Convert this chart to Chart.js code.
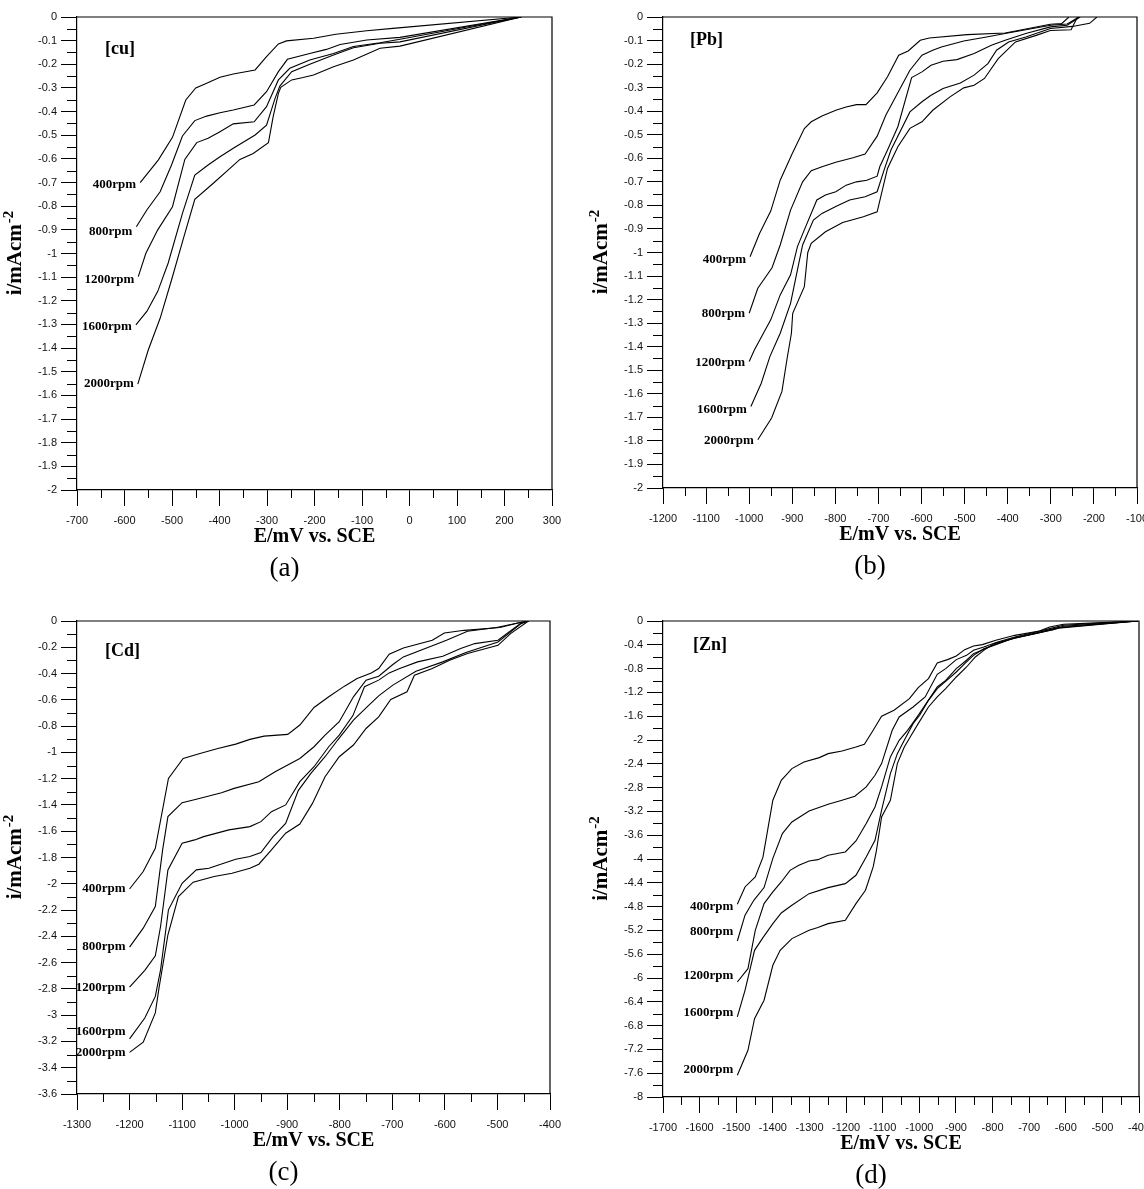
<!DOCTYPE html>
<html>
<head>
<meta charset="utf-8">
<script src="https://cdn.jsdelivr.net/npm/chart.js@4.4.1/dist/chart.umd.min.js"></script>
<style>
  html, body { margin: 0; padding: 0; background: #fff; }
  #wrap { position: relative; width: 1144px; height: 1189px; overflow: hidden; }
  .panel { position: absolute; }
</style>
</head>
<body>
<div id="wrap">
  <div class="panel" style="left:0;top:0"><canvas id="cu" width="572" height="594"></canvas></div>
  <div class="panel" style="left:572px;top:0"><canvas id="pb" width="572" height="594"></canvas></div>
  <div class="panel" style="left:0;top:594px"><canvas id="cd" width="572" height="595"></canvas></div>
  <div class="panel" style="left:572px;top:594px"><canvas id="zn" width="572" height="595"></canvas></div>
</div>
<script>
// Dados: [E (mV vs SCE), i (mA/cm2)] para cada velocidade de rotação
const rpmLabels = ['400rpm', '800rpm', '1200rpm', '1600rpm', '2000rpm'];

// (a) cobre
const cu400 = [[-567,-0.70],[-529,-0.605],[-499,-0.509],[-471,-0.351],[-450,-0.30],[-427,-0.28],[-399,-0.255],[-371,-0.241],[-325,-0.224],[-301,-0.168],[-276,-0.114],[-259,-0.101],[-202,-0.09],[-155,-0.073],[-90,-0.058],[-35,-0.048],[235,0]];
const cu800 = [[-575,-0.887],[-553,-0.816],[-525,-0.739],[-501,-0.626],[-478,-0.503],[-452,-0.438],[-427,-0.419],[-399,-0.405],[-371,-0.393],[-327,-0.372],[-301,-0.316],[-276,-0.231],[-257,-0.179],[-210,-0.154],[-175,-0.137],[-146,-0.116],[-90,-0.097],[-20,-0.086],[235,0]];
const cu1200 = [[-571,-1.098],[-555,-0.999],[-530,-0.9],[-499,-0.802],[-473,-0.602],[-448,-0.531],[-424,-0.513],[-399,-0.485],[-371,-0.452],[-327,-0.443],[-301,-0.379],[-276,-0.266],[-252,-0.217],[-210,-0.182],[-160,-0.154],[-118,-0.125],[-62,-0.109],[-20,-0.094],[235,0]];
const cu1600 = [[-576,-1.302],[-553,-1.245],[-530,-1.16],[-508,-1.04],[-478,-0.83],[-452,-0.668],[-424,-0.626],[-399,-0.591],[-371,-0.555],[-325,-0.499],[-301,-0.457],[-283,-0.344],[-273,-0.292],[-248,-0.231],[-210,-0.2],[-160,-0.161],[-118,-0.13],[-62,-0.111],[-20,-0.105],[235,0]];
const cu2000 = [[-572,-1.552],[-550,-1.408],[-525,-1.274],[-501,-1.112],[-475,-0.93],[-452,-0.771],[-413,-0.703],[-378,-0.64],[-357,-0.602],[-329,-0.577],[-297,-0.531],[-287,-0.421],[-276,-0.323],[-271,-0.297],[-248,-0.266],[-224,-0.256],[-202,-0.245],[-160,-0.21],[-118,-0.182],[-62,-0.132],[-20,-0.123],[235,0]];

// (b) chumbo
const pb400 = [[-998,-1.018],[-976,-0.919],[-950,-0.824],[-928,-0.693],[-900,-0.58],[-872,-0.474],[-856,-0.445],[-831,-0.42],[-799,-0.396],[-775,-0.382],[-751,-0.372],[-729,-0.372],[-703,-0.322],[-679,-0.254],[-653,-0.162],[-631,-0.144],[-603,-0.099],[-582,-0.089],[-494,-0.075],[-406,-0.068],[-301,-0.031],[-275,-0.028],[-258,0]];
const pb800 = [[-1000,-1.258],[-980,-1.152],[-947,-1.065],[-928,-0.968],[-904,-0.82],[-876,-0.70],[-856,-0.653],[-831,-0.636],[-799,-0.617],[-759,-0.598],[-731,-0.582],[-703,-0.506],[-683,-0.417],[-655,-0.322],[-627,-0.226],[-599,-0.162],[-574,-0.141],[-554,-0.127],[-502,-0.102],[-446,-0.084],[-406,-0.07],[-342,-0.049],[-300,-0.035],[-262,-0.03],[-235,0]];
const pb1200 = [[-1000,-1.463],[-988,-1.414],[-950,-1.286],[-928,-1.18],[-904,-1.095],[-888,-0.975],[-872,-0.904],[-843,-0.777],[-823,-0.756],[-799,-0.742],[-775,-0.714],[-751,-0.70],[-727,-0.693],[-703,-0.676],[-697,-0.636],[-679,-0.565],[-655,-0.466],[-623,-0.257],[-599,-0.233],[-578,-0.205],[-550,-0.188],[-518,-0.181],[-478,-0.155],[-438,-0.12],[-406,-0.099],[-358,-0.07],[-301,-0.042],[-262,-0.035],[-232,0]];
const pb1600 = [[-996,-1.654],[-972,-1.555],[-952,-1.442],[-928,-1.343],[-904,-1.216],[-888,-1.074],[-876,-0.968],[-851,-0.862],[-831,-0.834],[-799,-0.805],[-767,-0.777],[-731,-0.763],[-703,-0.742],[-687,-0.65],[-671,-0.565],[-627,-0.403],[-599,-0.36],[-578,-0.332],[-550,-0.304],[-510,-0.28],[-478,-0.247],[-446,-0.198],[-426,-0.141],[-398,-0.106],[-358,-0.085],[-301,-0.049],[-250,-0.04],[-210,-0.027],[-193,0]];
const pb2000 = [[-980,-1.795],[-948,-1.703],[-924,-1.59],[-912,-1.45],[-902,-1.343],[-899,-1.258],[-872,-1.145],[-864,-1.0],[-856,-0.961],[-823,-0.912],[-783,-0.873],[-735,-0.848],[-703,-0.827],[-679,-0.643],[-655,-0.551],[-627,-0.473],[-599,-0.445],[-574,-0.396],[-534,-0.339],[-502,-0.301],[-478,-0.29],[-454,-0.261],[-422,-0.177],[-382,-0.106],[-334,-0.078],[-301,-0.057],[-253,-0.054],[-238,0]];

// (c) cádmio
const cd400 = [[-1200,-2.04],[-1174,-1.907],[-1151,-1.73],[-1126,-1.198],[-1098,-1.046],[-1066,-1.008],[-1032,-0.97],[-998,-0.937],[-971,-0.901],[-944,-0.876],[-899,-0.863],[-876,-0.792],[-849,-0.658],[-821,-0.577],[-791,-0.496],[-767,-0.438],[-740,-0.395],[-726,-0.362],[-706,-0.253],[-679,-0.205],[-624,-0.147],[-601,-0.091],[-563,-0.071],[-495,-0.05],[-461,-0.015],[-441,0]];
const cd800 = [[-1200,-2.482],[-1174,-2.338],[-1151,-2.173],[-1137,-1.74],[-1127,-1.489],[-1100,-1.383],[-1073,-1.357],[-1025,-1.307],[-1001,-1.274],[-954,-1.223],[-923,-1.147],[-876,-1.046],[-849,-0.957],[-828,-0.868],[-801,-0.767],[-774,-0.577],[-750,-0.45],[-726,-0.42],[-699,-0.331],[-679,-0.273],[-597,-0.147],[-557,-0.078],[-502,-0.05],[-461,-0.015],[-441,0]];
const cd1200 = [[-1200,-2.787],[-1171,-2.659],[-1151,-2.548],[-1141,-2.325],[-1127,-1.895],[-1100,-1.692],[-1076,-1.666],[-1059,-1.641],[-1011,-1.59],[-971,-1.565],[-950,-1.527],[-930,-1.451],[-903,-1.4],[-876,-1.223],[-849,-1.109],[-821,-0.957],[-801,-0.868],[-775,-0.72],[-753,-0.5],[-726,-0.45],[-706,-0.395],[-686,-0.362],[-652,-0.311],[-604,-0.268],[-570,-0.21],[-543,-0.172],[-499,-0.147],[-455,-0.015],[-441,0]];
const cd1600 = [[-1200,-3.181],[-1171,-3.022],[-1151,-2.857],[-1141,-2.655],[-1126,-2.198],[-1100,-1.996],[-1073,-1.894],[-1049,-1.882],[-1025,-1.849],[-998,-1.813],[-971,-1.793],[-950,-1.763],[-927,-1.641],[-903,-1.54],[-879,-1.291],[-855,-1.16],[-828,-1.033],[-804,-0.906],[-774,-0.755],[-747,-0.65],[-726,-0.57],[-699,-0.488],[-655,-0.382],[-604,-0.311],[-560,-0.24],[-499,-0.16],[-455,-0.02],[-441,0]];
const cd2000 = [[-1200,-3.283],[-1174,-3.206],[-1151,-2.983],[-1144,-2.794],[-1127,-2.388],[-1107,-2.097],[-1079,-1.988],[-1039,-1.945],[-1005,-1.92],[-971,-1.882],[-954,-1.851],[-930,-1.742],[-903,-1.615],[-876,-1.545],[-852,-1.388],[-828,-1.185],[-801,-1.033],[-774,-0.944],[-750,-0.818],[-726,-0.73],[-703,-0.597],[-672,-0.539],[-658,-0.413],[-624,-0.362],[-591,-0.299],[-557,-0.248],[-499,-0.185],[-475,-0.096],[-441,0]];

// (d) zinco
const zn400 = [[-1497,-4.761],[-1476,-4.47],[-1448,-4.3],[-1427,-3.97],[-1400,-3.013],[-1377,-2.677],[-1348,-2.481],[-1315,-2.369],[-1273,-2.296],[-1249,-2.229],[-1211,-2.185],[-1173,-2.117],[-1150,-2.072],[-1126,-1.837],[-1103,-1.601],[-1069,-1.501],[-1027,-1.305],[-1003,-1.12],[-975,-0.968],[-951,-0.705],[-923,-0.649],[-899,-0.588],[-876,-0.481],[-852,-0.42],[-828,-0.397],[-791,-0.325],[-739,-0.241],[-672,-0.168],[-644,-0.1],[-606,-0.055],[-502,-0.027],[-403,0]];
const zn800 = [[-1497,-5.378],[-1476,-4.944],[-1452,-4.694],[-1424,-4.48],[-1400,-3.99],[-1374,-3.574],[-1348,-3.377],[-1301,-3.193],[-1249,-3.081],[-1211,-3.013],[-1176,-2.946],[-1145,-2.789],[-1121,-2.593],[-1103,-2.397],[-1074,-1.837],[-1055,-1.613],[-1017,-1.445],[-984,-1.277],[-951,-0.896],[-928,-0.8],[-899,-0.649],[-871,-0.577],[-852,-0.492],[-824,-0.437],[-786,-0.353],[-739,-0.268],[-682,-0.184],[-644,-0.128],[-606,-0.072],[-502,-0.033],[-403,0]];
const zn1200 = [[-1497,-6.067],[-1468,-5.843],[-1448,-5.2],[-1424,-4.75],[-1400,-4.554],[-1377,-4.386],[-1353,-4.19],[-1329,-4.106],[-1301,-4.033],[-1277,-4.011],[-1249,-3.938],[-1202,-3.882],[-1173,-3.697],[-1145,-3.405],[-1121,-3.125],[-1103,-2.789],[-1079,-2.285],[-1055,-2.005],[-1032,-1.837],[-1003,-1.585],[-980,-1.377],[-951,-1.109],[-928,-0.997],[-899,-0.8],[-871,-0.66],[-852,-0.549],[-814,-0.448],[-739,-0.28],[-634,-0.145],[-606,-0.089],[-502,-0.044],[-403,0]];
const zn1600 = [[-1497,-6.655],[-1476,-6.207],[-1450,-5.535],[-1427,-5.322],[-1400,-5.086],[-1377,-4.907],[-1348,-4.778],[-1301,-4.582],[-1249,-4.481],[-1202,-4.414],[-1173,-4.274],[-1145,-3.966],[-1121,-3.686],[-1103,-3.18],[-1079,-2.565],[-1060,-2.23],[-1041,-2.005],[-1017,-1.725],[-999,-1.585],[-975,-1.333],[-951,-1.137],[-928,-1.014],[-899,-0.857],[-876,-0.716],[-852,-0.577],[-824,-0.465],[-760,-0.32],[-680,-0.2],[-620,-0.11],[-502,-0.05],[-403,0]];
const zn2000 = [[-1497,-7.635],[-1468,-7.215],[-1450,-6.683],[-1424,-6.374],[-1400,-5.786],[-1380,-5.534],[-1348,-5.338],[-1301,-5.198],[-1277,-5.153],[-1249,-5.086],[-1202,-5.03],[-1173,-4.75],[-1147,-4.526],[-1126,-4.134],[-1117,-3.854],[-1103,-3.294],[-1079,-3.014],[-1060,-2.397],[-1041,-2.117],[-1022,-1.921],[-1003,-1.725],[-975,-1.445],[-951,-1.277],[-928,-1.137],[-899,-0.941],[-871,-0.773],[-847,-0.605],[-824,-0.493],[-795,-0.38],[-740,-0.29],[-680,-0.21],[-620,-0.12],[-502,-0.055],[-403,0]];

const SERIF = '"Liberation Serif", "Times New Roman", serif';
const SANS = '"Liberation Sans", Arial, sans-serif';

// Plugin: moldura, ticks menores e textos
const decor = {
  id: 'decor',
  afterDraw(chart, args, o) {
    const { ctx, chartArea: a, scales: { x, y } } = chart;
    ctx.save();
    ctx.strokeStyle = '#000';
    ctx.lineWidth = 1.2;
    ctx.beginPath();
    ctx.moveTo(a.left, a.top);
    ctx.lineTo(a.right, a.top);
    ctx.lineTo(a.right, a.bottom);
    ctx.stroke();

    // ticks menores entre os maiores
    ctx.lineWidth = 1;
    ctx.beginPath();
    for (let k = 0; k < x.ticks.length - 1; k++) {
      const px = Math.round(x.getPixelForValue((x.ticks[k].value + x.ticks[k + 1].value) / 2)) + 0.5;
      ctx.moveTo(px, a.bottom);
      ctx.lineTo(px, a.bottom + 8);
    }
    for (let k = 0; k < y.ticks.length - 1; k++) {
      const py = Math.round(y.getPixelForValue((y.ticks[k].value + y.ticks[k + 1].value) / 2)) + 0.5;
      ctx.moveTo(a.left - 10, py);
      ctx.lineTo(a.left, py);
    }
    ctx.stroke();

    ctx.fillStyle = '#000';

    // rótulo do metal
    ctx.font = 'bold 18px ' + SERIF;
    ctx.textAlign = 'left';
    ctx.textBaseline = 'middle';
    ctx.fillText(o.tag, a.left + o.tagDx, a.top + o.tagDy);

    // rótulos rpm no início de cada curva
    ctx.font = 'bold 13px ' + SERIF;
    ctx.textAlign = 'right';
    chart.data.datasets.forEach((ds, k) => {
      const p = ds.data[0];
      ctx.fillText(ds.label, x.getPixelForValue(p.x) - 4, y.getPixelForValue(p.y) + o.labelDy[k]);
    });

    // título do eixo x e legenda do painel
    const cx = (a.left + a.right) / 2;
    ctx.textAlign = 'center';
    ctx.font = 'bold 20px ' + SERIF;
    ctx.fillText('E/mV vs. SCE', cx, a.bottom + 47);
    ctx.font = '27px ' + SERIF;
    ctx.fillText(o.caption, cx - 30, a.bottom + 79);

    // título do eixo y com expoente
    ctx.translate(a.left - 61, (a.top + a.bottom) / 2);
    ctx.rotate(-Math.PI / 2);
    ctx.font = 'bold 21px ' + SERIF;
    const w1 = ctx.measureText('i/mAcm').width;
    ctx.font = 'bold 15px ' + SERIF;
    const w2 = ctx.measureText('-2').width;
    ctx.textAlign = 'left';
    ctx.font = 'bold 21px ' + SERIF;
    ctx.fillText('i/mAcm', -(w1 + w2) / 2, 0);
    ctx.font = 'bold 15px ' + SERIF;
    ctx.fillText('-2', -(w1 + w2) / 2 + w1 + 1, -7);
    ctx.restore();
  }
};

function montarPainel(id, series, cfg) {
  const tickFont = { family: SANS, size: 11 };
  return new Chart(document.getElementById(id), {
    type: 'line',
    data: {
      datasets: series.map((s, k) => ({
        label: rpmLabels[k],
        data: s.map(p => ({ x: p[0], y: p[1] })),
        borderColor: '#000',
        borderWidth: 1.1,
        pointRadius: 0,
        fill: false,
        tension: 0
      }))
    },
    options: {
      responsive: false,
      animation: false,
      layout: { autoPadding: false, padding: { top: cfg.top, right: cfg.right, left: 0, bottom: 0 } },
      plugins: {
        legend: { display: false },
        tooltip: { enabled: false },
        decor: cfg
      },
      scales: {
        x: {
          type: 'linear',
          min: cfg.xMin, max: cfg.xMax,
          ticks: { stepSize: 100, autoSkip: false, maxRotation: 0, padding: 8, font: tickFont, color: '#111',
                   callback: v => String(Math.round(v)) },
          grid: { drawOnChartArea: false, tickLength: 16, tickColor: '#000', tickWidth: 1 },
          border: { color: '#000', width: 1.2 },
          afterFit: s => { s.height = cfg.xH; s.paddingLeft = 0; s.paddingRight = 0; }
        },
        y: {
          type: 'linear',
          min: cfg.yMin, max: 0,
          ticks: { stepSize: cfg.yStep, autoSkip: false, padding: 4, font: tickFont, color: '#111',
                   callback: v => String(Math.round(v * 100) / 100) },
          grid: { drawOnChartArea: false, tickLength: 16, tickColor: '#000', tickWidth: 1 },
          border: { color: '#000', width: 1.2 },
          afterFit: s => { s.width = cfg.left; s.paddingTop = 0; s.paddingBottom = 0; }
        }
      }
    },
    plugins: [decor]
  });
}

montarPainel('cu', [cu400, cu800, cu1200, cu1600, cu2000], {
  left: 77, top: 17, right: 20, xH: 104, xMin: -700, xMax: 300, yMin: -2, yStep: 0.1,
  tag: '[cu]', tagDx: 28, tagDy: 32, caption: '(a)', labelDy: [2, 5, 3, 2, 0]
});
montarPainel('pb', [pb400, pb800, pb1200, pb1600, pb2000], {
  left: 91, top: 17, right: 7, xH: 106, xMin: -1200, xMax: -100, yMin: -2, yStep: 0.1,
  tag: '[Pb]', tagDx: 27, tagDy: 23, caption: '(b)', labelDy: [3, 0, 1, 3, 1]
});
montarPainel('cd', [cd400, cd800, cd1200, cd1600, cd2000], {
  left: 77, top: 27, right: 22, xH: 95, xMin: -1300, xMax: -400, yMin: -3.6, yStep: 0.2,
  tag: '[Cd]', tagDx: 28, tagDy: 30, caption: '(c)', labelDy: [0, 0, 0, -7, 0]
});
montarPainel('zn', [zn400, zn800, zn1200, zn1600, zn2000], {
  left: 91, top: 27, right: 5, xH: 92, xMin: -1700, xMax: -400, yMin: -8, yStep: 0.4,
  tag: '[Zn]', tagDx: 30, tagDy: 24, caption: '(d)', labelDy: [2, -9, -6, -4, -6]
});
</script>
</body>
</html>
